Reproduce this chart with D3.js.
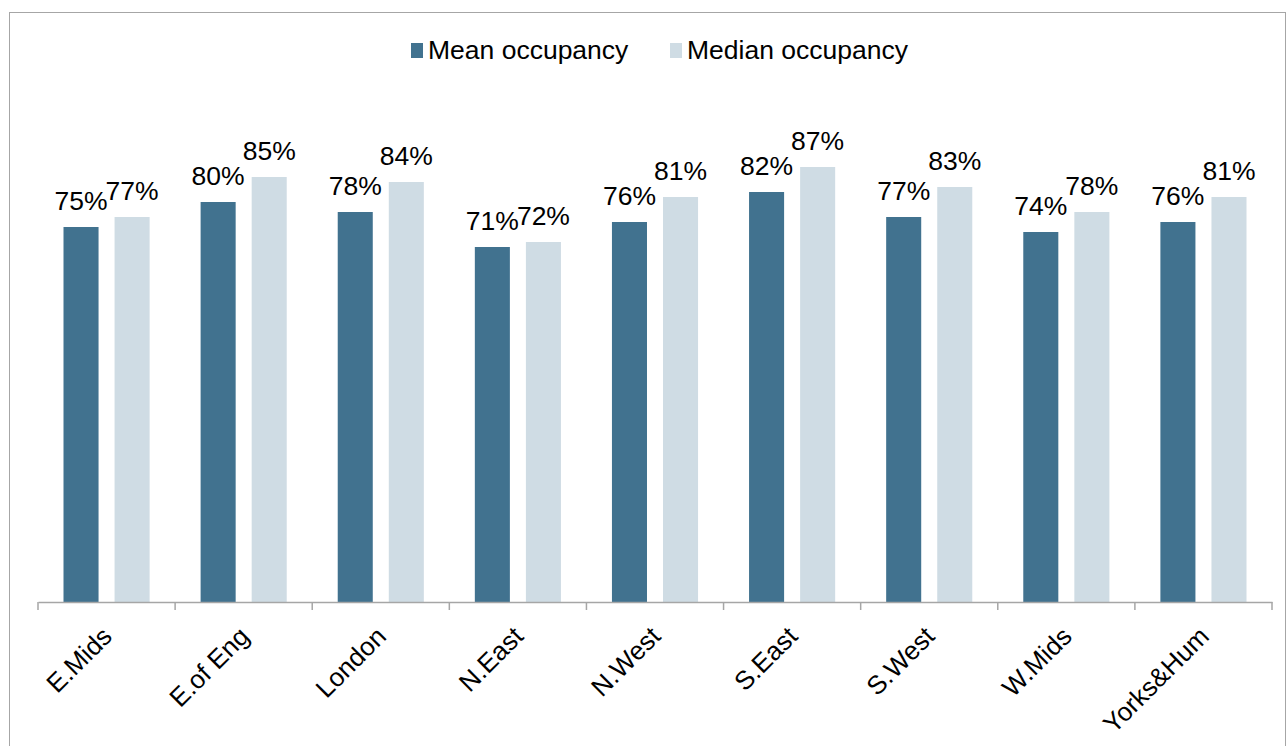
<!DOCTYPE html>
<html>
<head>
<meta charset="utf-8">
<title>Occupancy by region</title>
<script src="https://d3js.org/d3.v7.min.js"></script>
<style>
  body { margin: 0; background: #fff; }
  text { font-family: "Liberation Sans", Arial, sans-serif; fill: #000; }
</style>
</head>
<body>
<script>
// data
var regions = ["E.Mids", "E.of Eng", "London", "N.East", "N.West", "S.East", "S.West", "W.Mids", "Yorks&Hum"];
var meanOcc = [0.75, 0.80, 0.78, 0.71, 0.76, 0.82, 0.77, 0.74, 0.76];
var medianOcc = [0.77, 0.85, 0.84, 0.72, 0.81, 0.87, 0.83, 0.78, 0.81];
var seriesNames = ["Mean occupancy", "Median occupancy"];
var seriesColors = ["#41728f", "#cfdce4"];

var w = 1288, h = 746;
var left = 38, right = 1272, base = 602, top100 = 102;

var svg = d3.select("body").append("svg")
  .attr("width", w)
  .attr("height", h);

// outer border
svg.append("rect")
  .attr("x", 9.5).attr("y", 12.5)
  .attr("width", 1276).attr("height", 745)
  .attr("fill", "none")
  .attr("stroke", "#a6a6a6")
  .attr("stroke-width", 1);

var x0 = d3.scaleBand().domain(regions).range([left, right]).padding(0);
var x1 = d3.scaleBand().domain(seriesNames)
  .range([25.5, x0.bandwidth() - 25.5])
  .paddingInner(16 / 51);
var y = d3.scaleLinear().domain([0, 1]).range([base, top100]);

var rows = regions.map(function(r, i) {
  return { region: r, values: [meanOcc[i], medianOcc[i]] };
});

var groups = svg.selectAll("g.grp")
  .data(rows)
  .enter().append("g")
  .attr("class", "grp")
  .attr("transform", function(d) { return "translate(" + x0(d.region) + ",0)"; });

groups.selectAll("rect")
  .data(function(d) { return d.values.map(function(v, j) { return { s: seriesNames[j], v: v, j: j }; }); })
  .enter().append("rect")
  .attr("x", function(d) { return x1(d.s); })
  .attr("y", function(d) { return y(d.v); })
  .attr("width", x1.bandwidth())
  .attr("height", function(d) { return base - y(d.v); })
  .attr("fill", function(d) { return seriesColors[d.j]; });

groups.selectAll("text.val")
  .data(function(d) { return d.values.map(function(v, j) { return { s: seriesNames[j], v: v }; }); })
  .enter().append("text")
  .attr("class", "val")
  .attr("x", function(d) { return x1(d.s) + x1.bandwidth() / 2; })
  .attr("y", function(d) { return y(d.v) - 17; })
  .attr("text-anchor", "middle")
  .attr("font-size", "26.5px")
  .text(function(d) { return Math.round(d.v * 100) + "%"; });

// x axis
var xAxis = d3.axisBottom(x0).tickSize(0).tickFormat("");
var gx = svg.append("g")
  .attr("transform", "translate(0," + base + ")")
  .call(xAxis);
gx.select(".domain").attr("stroke", "#a6a6a6").attr("stroke-width", 1.5);

// boundary ticks
svg.selectAll("line.btick")
  .data(regions.concat(["__end"]))
  .enter().append("line")
  .attr("class", "btick")
  .attr("x1", function(d) { return d === "__end" ? right : x0(d); })
  .attr("x2", function(d) { return d === "__end" ? right : x0(d); })
  .attr("y1", base)
  .attr("y2", base + 8)
  .attr("stroke", "#a6a6a6")
  .attr("stroke-width", 1.5);

svg.selectAll("text.cat")
  .data(regions)
  .enter().append("text")
  .attr("class", "cat")
  .attr("text-anchor", "end")
  .attr("font-size", "26px")
  .attr("transform", function(d) {
    return "translate(" + (x0(d) + x0.bandwidth() / 2 + 7) + "," + (base + 36) + ") rotate(-45)";
  })
  .text(function(d) { return d; });

// legend
var legend = svg.append("g");
var lx = [411, 670];
seriesNames.forEach(function(s, i) {
  legend.append("rect")
    .attr("x", lx[i]).attr("y", 43)
    .attr("width", 12).attr("height", 15)
    .attr("fill", seriesColors[i]);
  legend.append("text")
    .attr("x", lx[i] + 17).attr("y", 59)
    .attr("font-size", "26.5px")
    .text(s);
});
</script>
</body>
</html>
